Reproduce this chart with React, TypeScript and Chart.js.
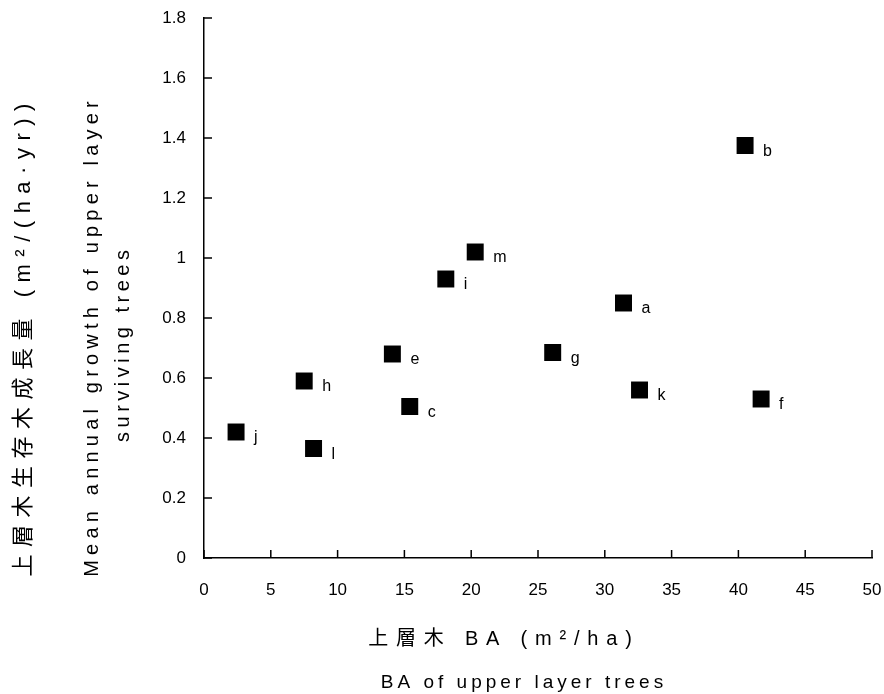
import { useEffect, useRef } from "react";
import { Chart, registerables } from "chart.js";

Chart.register(...registerables);

// ---- data ----
const pointNames = ["a", "b", "c", "e", "f", "g", "h", "i", "j", "k", "l", "m"];
const baValues = [31.4, 40.5, 15.4, 14.1, 41.7, 26.1, 7.5, 18.1, 2.4, 32.6, 8.2, 20.3];
const growthValues = [0.85, 1.375, 0.505, 0.68, 0.53, 0.685, 0.59, 0.93, 0.42, 0.56, 0.365, 1.02];

const xTickLabels = ["0", "5", "10", "15", "20", "25", "30", "35", "40", "45", "50"];
const yTickLabels = ["0", "0.2", "0.4", "0.6", "0.8", "1", "1.2", "1.4", "1.6", "1.8"];

const xTitleJa = "上層木 BA (m²/ha)";
const xTitleEn = "BA of upper layer trees";
const yTitleJa = "上層木生存木成長量 (m²/(ha·yr))";
const yTitleEn = ["Mean annual growth of upper layer", "surviving trees"];

const FONT = '"Liberation Sans", Arial, "Noto Sans CJK JP", sans-serif';

function drawSpacedText(
  ctx: CanvasRenderingContext2D,
  text: string,
  x: number,
  y: number,
  font: string,
  spacing: number,
  rotate: boolean
) {
  ctx.save();
  ctx.font = font;
  (ctx as any).letterSpacing = spacing + "px";
  ctx.textAlign = "center";
  ctx.textBaseline = "alphabetic";
  ctx.fillStyle = "#000";
  ctx.translate(x, y);
  if (rotate) ctx.rotate(-Math.PI / 2);
  ctx.fillText(text, spacing / 2, 0);
  ctx.restore();
}

const overlayPlugin = {
  id: "overlay",
  afterDraw(chart: any) {
    const ctx: CanvasRenderingContext2D = chart.ctx;
    const xs = chart.scales.x;
    const ys = chart.scales.y;
    const area = chart.chartArea;
    ctx.save();
    ctx.strokeStyle = "#000";
    ctx.lineWidth = 1.5;
    ctx.beginPath();
    ys.ticks.forEach((t: any) => {
      const py = ys.getPixelForValue(t.value);
      ctx.moveTo(area.left, py);
      ctx.lineTo(area.left + 8, py);
    });
    xs.ticks.forEach((t: any) => {
      const px = xs.getPixelForValue(t.value);
      ctx.moveTo(px, area.bottom);
      ctx.lineTo(px, area.bottom - 8);
    });
    ctx.stroke();

    // point labels
    const meta = chart.getDatasetMeta(0);
    ctx.font = "16px " + FONT;
    ctx.fillStyle = "#000";
    ctx.textAlign = "left";
    ctx.textBaseline = "alphabetic";
    meta.data.forEach((el: any, i: number) => {
      ctx.fillText(pointNames[i], el.x + 18, el.y + 10);
    });
    ctx.restore();

    // axis titles
    drawSpacedText(ctx, xTitleJa, 500, 645, "20px " + FONT, 7.8, false);
    drawSpacedText(ctx, xTitleEn, 522, 688, "19px " + FONT, 4, false);
    drawSpacedText(ctx, yTitleJa, 30, 340, "22px " + FONT, 7.5, true);
    drawSpacedText(ctx, yTitleEn[0], 98, 339, "20px " + FONT, 5.2, true);
    drawSpacedText(ctx, yTitleEn[1], 129, 346, "20px " + FONT, 4.5, true);
  },
};

export default function App() {
  const canvasRef = useRef<HTMLCanvasElement | null>(null);

  useEffect(() => {
    const canvas = canvasRef.current;
    if (!canvas) return;
    const points = baValues.map((x, i) => ({ x, y: growthValues[i] }));
    const chart = new Chart(canvas, {
      type: "scatter",
      data: {
        datasets: [
          {
            data: points,
            pointStyle: "rect",
            pointRadius: 12,
            pointHoverRadius: 12,
            backgroundColor: "#000",
            borderColor: "#000",
            borderWidth: 0,
          },
        ],
      },
      options: {
        responsive: false,
        animation: false,
        events: [],
        layout: { padding: { top: 18, right: 12, left: 0, bottom: 0 } },
        plugins: {
          legend: { display: false },
          tooltip: { enabled: false },
          title: { display: false },
        },
        scales: {
          x: {
            type: "linear",
            min: 0,
            max: 50,
            afterFit: (scale: any) => {
              scale.height = 136;
              scale.paddingLeft = 0;
              scale.paddingRight = 0;
            },
            ticks: {
              stepSize: 5,
              color: "#000",
              font: { size: 17, family: FONT },
              padding: 22,
              maxRotation: 0,
              callback: (_v: any, i: number) => xTickLabels[i],
            },
            grid: { display: false, drawTicks: false },
            border: { display: true, color: "#000", width: 1.5 },
          },
          y: {
            type: "linear",
            min: 0,
            max: 1.8,
            afterFit: (scale: any) => {
              scale.width = 204;
              scale.paddingTop = 0;
              scale.paddingBottom = 0;
            },
            ticks: {
              stepSize: 0.2,
              color: "#000",
              font: { size: 17, family: FONT },
              padding: 18,
              callback: (_v: any, i: number) => yTickLabels[i],
            },
            grid: { display: false, drawTicks: false },
            border: { display: true, color: "#000", width: 1.5 },
          },
        },
      },
      plugins: [overlayPlugin],
    });
    return () => chart.destroy();
  }, []);

  return (
    <div style={{ position: "fixed", left: 0, top: 0, width: 884, height: 694, background: "#fff" }}>
      <canvas ref={canvasRef} width={884} height={694} style={{ display: "block" }} />
    </div>
  );
}
